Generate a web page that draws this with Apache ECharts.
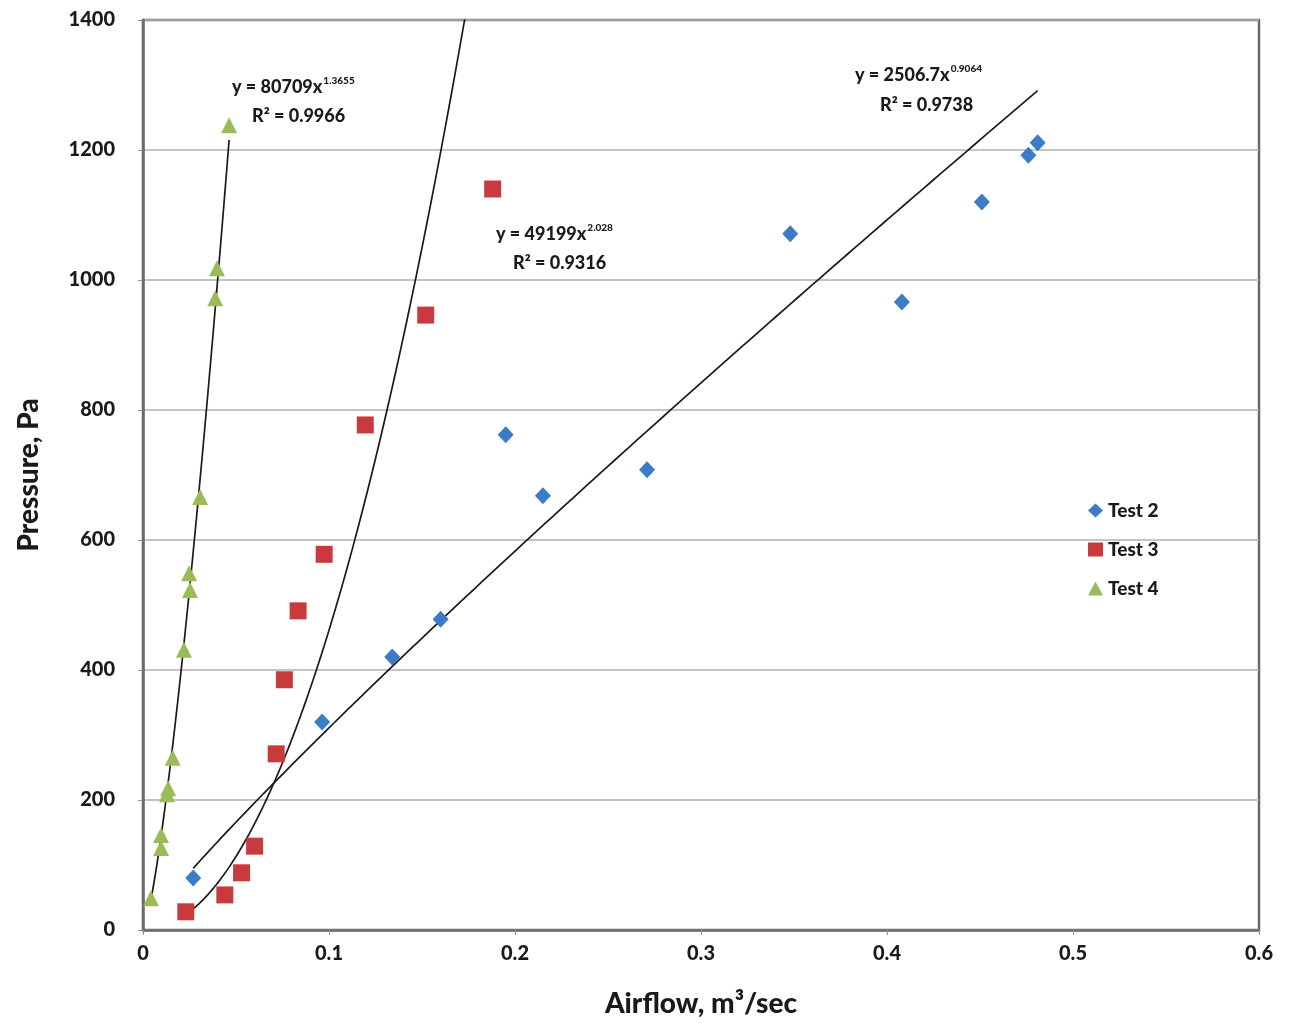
<!DOCTYPE html>
<html><head><meta charset="utf-8">
<script src="https://cdn.jsdelivr.net/npm/echarts@6/dist/echarts.min.js"></script>
<style>html,body{margin:0;padding:0;background:#fff}#c{width:1300px;height:1031px}</style>
</head><body><div id="c"></div>
<script>
const test2X = [0.027, 0.0963, 0.134, 0.160, 0.195, 0.215, 0.271, 0.348, 0.408, 0.451, 0.476, 0.481];
const test2Y = [80, 320, 420, 478, 762, 668, 708, 1071, 966, 1120, 1192, 1211];
const test3X = [0.023, 0.044, 0.053, 0.060, 0.0716, 0.076, 0.0834, 0.0974, 0.1195, 0.152, 0.188];
const test3Y = [28, 54, 88, 129, 271, 385, 491, 578, 777, 946, 1140];
const test4X = [0.0043, 0.0097, 0.0097, 0.0129, 0.0135, 0.016, 0.022, 0.0253, 0.0248, 0.0307, 0.0388, 0.0398, 0.0463];
const test4Y = [49, 126, 146, 209, 218, 265, 431, 523, 549, 666, 972, 1018, 1238];
// power trendlines y = a * x^b (from the chart's equations)
const fit2 = [2506.7, 0.9064];
const fit3 = [49199, 2.028];
const fit4 = [80709, 1.3655];
const xTicks = [0, 0.1, 0.2, 0.3, 0.4, 0.5, 0.6];
const yTicks = [0, 200, 400, 600, 800, 1000, 1200, 1400];

function pts(xs, ys){ return xs.map((x,i)=>[x, ys[i]]); }
function trend(fit, xs){
  const lo = Math.min(...xs), hi = Math.max(...xs), n = 120, out = [];
  for (let i=0;i<=n;i++){ const x = lo + (hi-lo)*i/n; out.push([x, fit[0]*Math.pow(x, fit[1])]); }
  return out;
}
const FONT = 'Lato';
const W = 900;
const chart = echarts.init(document.getElementById('c'), null, {renderer:'canvas'});
const lineStyle = {color:'#1a1a1a', width:1.7};
chart.setOption({
  animation:false,
  textStyle:{fontFamily:FONT},
  grid:{left:143, right:41, top:20, bottom:101, show:true, borderColor:'#6a6a6a', borderWidth:2.5},
  xAxis:{type:'value', min:0, max:0.6, interval:0.1,
    axisLine:{show:true, lineStyle:{color:'#6a6a6a', width:2.5}},
    axisTick:{show:true, length:5, lineStyle:{color:'#909090'}},
    splitLine:{show:false},
    axisLabel:{color:'#1a1a1a', fontWeight:W, fontSize:20, margin:14, fontFamily:FONT,
      formatter:v=>{ const t = xTicks.find(t=>Math.abs(t-v)<1e-9); return t===undefined?'':String(t);} },
    name:'Airflow, m³/sec', nameLocation:'middle', nameGap:60,
    nameTextStyle:{color:'#1a1a1a', fontWeight:W, fontSize:28, fontFamily:FONT}},
  yAxis:{type:'value', min:0, max:1400, interval:200,
    axisLine:{show:true, lineStyle:{color:'#6a6a6a', width:2.5}},
    axisTick:{show:true, length:5, lineStyle:{color:'#909090'}},
    splitLine:{show:true, lineStyle:{color:'#b0b0b0', width:1.5}},
    axisLabel:{color:'#1a1a1a', fontWeight:W, fontSize:20, margin:28, fontFamily:FONT,
      formatter:v=>yTicks.includes(v)?String(v):''},
    name:'Pressure, Pa', nameLocation:'middle', nameGap:100,
    nameTextStyle:{color:'#1a1a1a', fontWeight:W, fontSize:28, fontFamily:FONT}},
  legend:{orient:'vertical', left:1083, top:496, itemGap:20, itemWidth:15, itemHeight:14,
    data:['Test 2','Test 3','Test 4'],
    textStyle:{color:'#1a1a1a', fontWeight:W, fontSize:19, fontFamily:FONT}},
  series:[
    {name:'trend2', type:'line', data:trend(fit2, test2X), showSymbol:false, lineStyle, z:1, silent:true},
    {name:'trend3', type:'line', data:trend(fit3, test3X), showSymbol:false, lineStyle, z:1, silent:true, clip:true},
    {name:'trend4', type:'line', data:trend(fit4, test4X), showSymbol:false, lineStyle, z:1, silent:true},
    {name:'Test 2', type:'scatter', data:pts(test2X,test2Y), symbol:'diamond', symbolSize:[16,17], itemStyle:{color:'#3b7bc8', opacity:1}, z:3},
    {name:'Test 3', type:'scatter', data:pts(test3X,test3Y), symbol:'rect', symbolSize:17, itemStyle:{color:'#c93a3c', opacity:1}, z:3},
    {name:'Test 4', type:'scatter', data:pts(test4X,test4Y), symbol:'triangle', symbolSize:[16,16], itemStyle:{color:'#9bbb59', opacity:1}, z:3}
  ]
});
const rich = {
  t:{fontSize:18, fontWeight:W, fill:'#1a1a1a', fontFamily:FONT},
  s:{fontSize:10, fontWeight:W, fill:'#1a1a1a', fontFamily:FONT, verticalAlign:'top', padding:[0,0,12,1]}
};
function eq(x, y, a, b){ return {type:'text', left:x, top:y, style:{text:'{t|y = '+a+'x}{s|'+b+'}', rich, fill:'#1a1a1a'}}; }
function r2(x, y, v){ return {type:'text', left:x, top:y, style:{text:'R² = '+v, fontSize:18, fontWeight:W, fill:'#1a1a1a', fontFamily:FONT}}; }
chart.setOption({graphic:[
  eq(232, 76, '80709', '1.3655'), r2(252, 107, '0.9966'),
  eq(855, 64, '2506.7', '0.9064'), r2(880, 96, '0.9738'),
  eq(496, 223, '49199', '2.028'), r2(513, 254, '0.9316')
]});
</script></body></html>
